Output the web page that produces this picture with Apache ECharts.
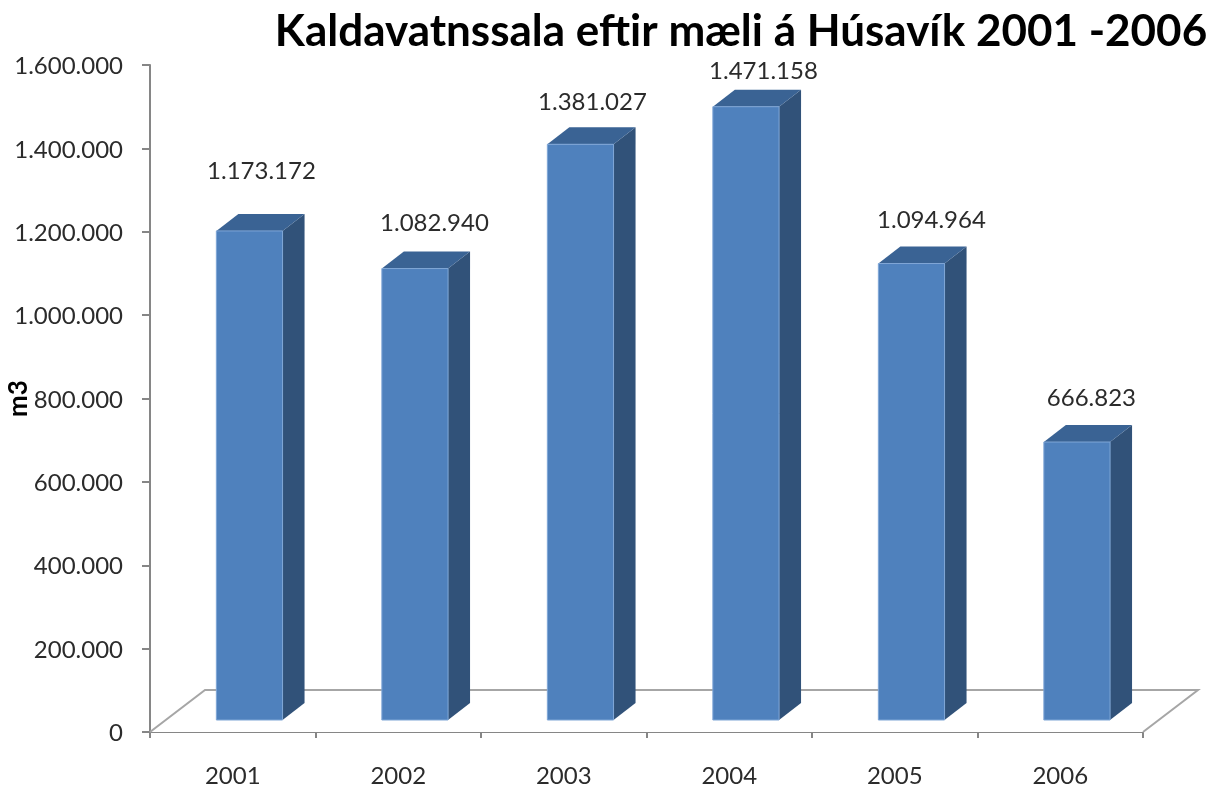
<!DOCTYPE html>
<html>
<head>
<meta charset="utf-8">
<script src="https://cdn.jsdelivr.net/npm/echarts@6/dist/echarts.min.js"></script>
<style>html,body{margin:0;padding:0;background:#fff}#c{width:1226px;height:787px}</style>
</head>
<body>
<div id="c"></div>
<script>
const titleText = 'Kaldavatnssala eftir mæli á Húsavík 2001 -2006';
const yAxisName = 'm3';
const categories = ['2001', '2002', '2003', '2004', '2005', '2006'];
const waterSales = [1173172, 1082940, 1381027, 1471158, 1094964, 666823];
const labelDx = [12, 19.5, 12, 17.5, 20, 14.5];
const labelDy = [-72, -57, -54, -47, -55, -56];

const FONT = 'Lato, "Open Sans", sans-serif';
const dots = v => String(v).replace(/\B(?=(\d{3})+(?!\d))/g, '.');

function renderFloor(params, api) {
  const cs = params.coordSys;
  const x0 = cs.x, y0 = cs.y + cs.height, x1 = cs.x + cs.width;
  return {
    type: 'polyline',
    silent: true,
    shape: { points: [[x0, y0], [x0 + 55, y0 - 42], [x1 + 55, y0 - 42], [x1, y0]] },
    style: { fill: '#fff', stroke: '#a6a6a6', lineWidth: 2 }
  };
}

function renderBar(params, api) {
  const i = api.value(0);
  const p = api.coord([i, api.value(1)]);
  const zero = api.coord([i, 0]);
  const band = api.size([1, 0])[0];
  const w = band * 0.4, dx = 22, dy = 17, shift = 16.7, lift = 12;
  const l = p[0] + shift - w / 2, r = l + w;
  const t = p[1] - lift, b = zero[1] - lift;
  return {
    type: 'group',
    children: [
      { type: 'polygon', shape: { points: [[r, t], [r + dx, t - dy], [r + dx, b - dy], [r, b]] }, style: { fill: '#315279' } },
      { type: 'polygon', shape: { points: [[l, t], [l + dx, t - dy], [r + dx, t - dy], [r, t]] }, style: { fill: '#3A6394' } },
      { type: 'rect', shape: { x: l, y: t, width: w, height: b - t }, style: { fill: '#4F81BD', stroke: '#7fa6d6', lineWidth: 1 } },
      { type: 'text', style: {
          text: dots(api.value(1)), x: p[0] + shift + labelDx[i], y: p[1] + labelDy[i],
          align: 'center', verticalAlign: 'middle', font: '24px ' + FONT, fill: '#2b2b2b' } }
    ]
  };
}

const chart = echarts.init(document.getElementById('c'), null, { renderer: 'canvas' });
chart.setOption({
  animation: false,
  backgroundColor: '#fff',
  title: {
    text: titleText, left: 736, top: 5, textAlign: 'center',
    textStyle: { fontFamily: FONT, fontWeight: 'bold', fontSize: 44, color: '#000' }
  },
  grid: { left: 150, right: 83, top: 65, bottom: 55, outerBoundsMode: 'none' },
  xAxis: {
    type: 'category', data: categories,
    axisLine: { lineStyle: { color: '#868686', width: 2 } },
    axisTick: { show: true, length: 6, lineStyle: { color: '#868686', width: 2 } },
    axisLabel: { fontFamily: FONT, fontSize: 24, color: '#2b2b2b', margin: 32 }
  },
  yAxis: {
    type: 'value', min: 0, max: 1600000, interval: 200000,
    name: yAxisName, nameLocation: 'middle', nameGap: 118, nameRotate: 90, nameMoveOverlap: false,
    nameTextStyle: { fontFamily: FONT, fontWeight: 'bold', fontSize: 26, color: '#000' },
    splitLine: { show: false },
    axisLine: { show: true, lineStyle: { color: '#868686', width: 2 } },
    axisTick: { show: true, length: 8, lineStyle: { color: '#868686', width: 2 } },
    axisLabel: {
      fontFamily: FONT, fontSize: 24, color: '#2b2b2b', margin: 27,
      formatter: v => '{a|' + dots(v) + '}',
      rich: { a: { fontFamily: FONT, fontSize: 24, color: '#2b2b2b', padding: [3, 0, 0, 0] } }
    }
  },
  series: [
    { type: 'custom', name: 'floor', renderItem: renderFloor, data: [[0, 0]], z: 1, silent: true },
    { type: 'custom', name: 'Kaldavatnssala', renderItem: renderBar, z: 3,
      encode: { x: 0, y: 1 }, data: waterSales.map((v, i) => [i, v]) }
  ]
});
</script>
</body>
</html>
